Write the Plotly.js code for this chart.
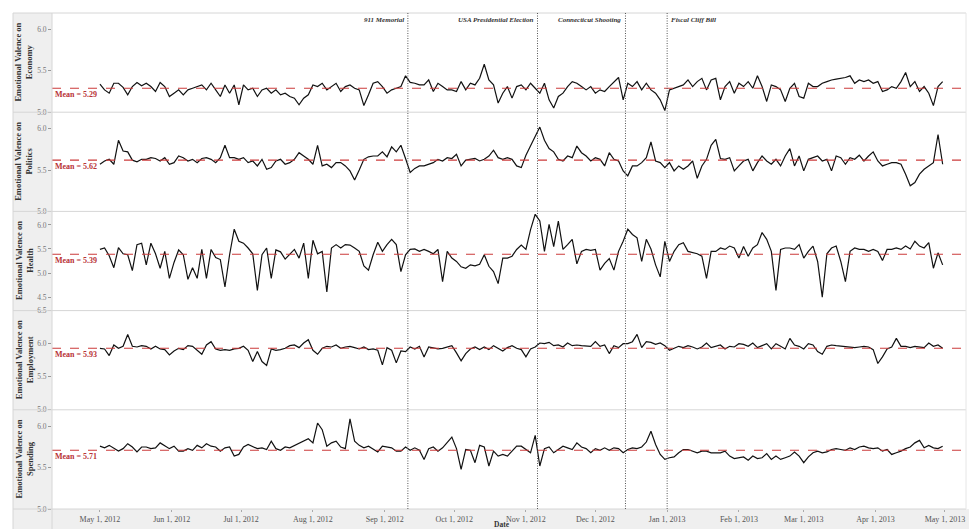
<!DOCTYPE html>
<html><head><meta charset="utf-8">
<script src="https://cdn.plot.ly/plotly-3.0.1.min.js"></script>
<style>html,body{margin:0;padding:0;background:#fff;}#chart{width:969px;height:529px;}</style>
</head><body><div id="chart"></div>
<script>
// ---- data (sampled every 2 days from May 1, 2012) ----
const startDate = '2012-05-01';
const stepDays = 2;

const economy = [
5.34,5.27,5.23,5.35,5.35,5.30,5.21,5.31,5.36,5.32,
5.35,5.31,5.25,5.36,5.31,5.19,5.23,5.27,5.21,5.27,
5.29,5.31,5.33,5.27,5.35,5.27,5.19,5.33,5.23,5.33,
5.09,5.33,5.27,5.29,5.19,5.27,5.29,5.23,5.27,5.21,
5.23,5.19,5.17,5.09,5.17,5.21,5.33,5.31,5.35,5.27,
5.31,5.35,5.25,5.31,5.33,5.29,5.27,5.08,5.21,5.35,
5.37,5.31,5.23,5.27,5.29,5.31,5.44,5.36,5.35,5.33,
5.33,5.39,5.25,5.35,5.31,5.27,5.27,5.25,5.37,5.27,
5.35,5.33,5.41,5.58,5.39,5.33,5.11,5.23,5.31,5.17,
5.31,5.33,5.27,5.35,5.29,5.23,5.35,5.15,5.05,5.19,
5.23,5.31,5.37,5.35,5.31,5.27,5.31,5.23,5.27,5.25,
5.31,5.37,5.42,5.15,5.35,5.31,5.37,5.27,5.35,5.27,
5.23,5.15,5.02,5.27,5.29,5.31,5.33,5.39,5.31,5.37,
5.41,5.27,5.39,5.41,5.15,5.31,5.37,5.23,5.35,5.31,
5.37,5.29,5.44,5.31,5.13,5.33,5.31,5.27,5.13,5.29,
5.35,5.19,5.17,5.35,5.31,5.31,5.35,5.37,5.39,5.40,
5.41,5.42,5.44,5.35,5.39,5.37,5.39,5.35,5.37,5.25,
5.27,5.31,5.29,5.37,5.48,5.31,5.37,5.25,5.31,5.23,
5.08,5.31,5.37];

const politics = [
5.57,5.61,5.63,5.57,5.86,5.73,5.72,5.62,5.60,5.63,
5.63,5.65,5.64,5.61,5.65,5.57,5.59,5.67,5.65,5.61,
5.63,5.59,5.64,5.65,5.63,5.59,5.65,5.80,5.65,5.65,
5.63,5.65,5.59,5.61,5.55,5.63,5.51,5.53,5.61,5.63,
5.57,5.59,5.63,5.71,5.67,5.63,5.57,5.80,5.55,5.57,
5.53,5.59,5.59,5.55,5.49,5.38,5.50,5.63,5.66,5.67,
5.67,5.72,5.66,5.78,5.72,5.80,5.64,5.47,5.52,5.55,
5.55,5.57,5.59,5.63,5.61,5.65,5.64,5.69,5.55,5.62,
5.63,5.64,5.61,5.63,5.67,5.74,5.65,5.63,5.65,5.63,
5.55,5.53,5.68,5.80,5.92,6.02,5.86,5.76,5.72,5.63,
5.61,5.67,5.65,5.79,5.71,5.67,5.61,5.65,5.63,5.55,
5.71,5.63,5.61,5.49,5.43,5.55,5.55,5.59,5.65,5.84,
5.61,5.59,5.53,5.59,5.49,5.55,5.51,5.55,5.61,5.40,
5.55,5.63,5.80,5.87,5.64,5.63,5.65,5.49,5.55,5.61,
5.63,5.49,5.59,5.67,5.61,5.57,5.63,5.55,5.67,5.76,
5.55,5.67,5.49,5.63,5.65,5.67,5.61,5.63,5.49,5.67,
5.65,5.57,5.65,5.63,5.68,5.61,5.67,5.72,5.61,5.55,
5.57,5.59,5.59,5.57,5.45,5.31,5.35,5.45,5.51,5.55,
5.59,5.93,5.57];

const health = [
5.49,5.52,5.36,5.11,5.53,5.40,5.38,5.05,5.59,5.62,
5.17,5.62,5.40,5.10,5.45,4.89,5.22,5.48,5.38,4.87,
5.11,4.89,5.49,4.89,5.49,5.32,5.28,4.71,5.38,5.91,
5.66,5.62,5.52,5.40,4.64,5.38,5.52,4.89,5.48,5.44,
5.29,5.38,5.49,5.31,5.62,4.89,5.68,5.40,5.45,4.61,
5.52,5.59,5.52,5.59,5.58,5.52,5.45,5.15,5.06,5.38,
5.64,5.45,5.59,5.70,5.59,5.03,5.38,5.49,5.50,5.45,
5.49,5.45,5.40,5.49,4.82,5.45,5.31,5.24,5.13,5.10,
5.17,5.15,5.18,5.38,5.14,5.03,4.78,5.31,5.31,5.35,
5.49,5.58,5.49,5.90,6.22,6.08,5.45,6.01,5.55,6.08,
5.49,5.59,5.70,5.19,5.45,5.49,5.47,5.49,5.06,5.20,
5.30,5.06,5.45,5.66,5.91,5.80,5.73,5.24,5.70,5.50,
5.17,4.92,5.66,5.24,5.45,5.59,5.63,5.45,5.42,5.40,
5.35,4.89,5.45,5.45,5.52,5.49,5.56,5.52,5.31,5.55,
5.35,5.52,5.59,5.84,5.70,5.45,4.64,5.49,5.52,5.52,
5.49,5.59,5.31,5.45,5.56,5.24,4.50,5.40,5.52,5.56,
5.24,4.82,5.45,5.52,5.49,5.49,5.45,5.49,5.45,5.26,
5.49,5.49,5.52,5.49,5.56,5.50,5.66,5.56,5.52,5.63,
5.10,5.42,5.17];

const employment = [
5.93,5.92,5.82,5.98,5.93,5.96,6.14,5.96,5.95,5.97,
5.96,5.92,5.96,5.92,5.91,5.83,5.89,5.93,5.91,5.97,
5.96,5.90,5.84,5.98,6.03,5.92,5.90,5.91,5.90,5.92,
5.93,5.96,5.90,5.73,5.88,5.73,5.67,5.92,5.90,5.91,
5.93,5.97,5.98,5.94,6.01,6.06,5.90,5.84,5.93,5.96,
5.95,5.98,5.93,5.95,5.96,5.94,5.92,5.95,5.91,5.92,
5.90,5.68,5.94,5.90,5.71,5.89,5.88,5.95,5.92,5.96,
5.80,5.95,5.93,5.92,5.93,5.95,5.97,5.86,5.74,5.85,
5.92,5.95,5.91,5.95,5.91,5.97,5.93,5.89,5.94,5.97,
5.93,5.91,5.80,5.92,5.95,6.01,6.00,6.02,5.97,5.98,
5.95,6.01,5.97,5.98,5.97,5.96,5.96,6.03,5.96,5.98,
5.85,5.97,5.94,6.00,6.00,6.03,6.14,5.94,6.03,6.02,
5.99,6.01,5.97,5.90,5.93,5.96,5.94,5.97,5.95,5.92,
5.95,6.01,5.94,5.96,5.98,5.92,5.96,5.95,6.00,5.99,
5.96,6.01,5.94,5.97,6.00,5.92,6.00,5.96,5.92,6.08,
5.98,5.96,5.92,6.00,5.98,5.88,5.84,5.96,5.98,5.97,
5.96,5.95,5.95,5.94,5.95,5.96,5.95,5.91,5.70,5.80,
5.92,5.95,6.08,5.96,5.96,5.94,5.96,5.95,5.94,6.01,
5.96,5.98,5.93];

const spending = [
5.76,5.74,5.77,5.74,5.70,5.73,5.79,5.75,5.69,5.75,
5.75,5.73,5.74,5.80,5.76,5.73,5.76,5.70,5.70,5.73,
5.71,5.77,5.74,5.79,5.76,5.75,5.70,5.74,5.75,5.64,
5.66,5.75,5.78,5.75,5.73,5.74,5.72,5.82,5.73,5.71,
5.75,5.74,5.77,5.80,5.83,5.85,5.80,6.04,5.96,5.76,
5.80,5.82,5.75,5.73,6.09,5.82,5.77,5.74,5.76,5.72,
5.69,5.76,5.75,5.74,5.70,5.70,5.75,5.71,5.74,5.71,
5.60,5.73,5.75,5.70,5.74,5.81,5.87,5.73,5.48,5.72,
5.71,5.56,5.77,5.75,5.52,5.70,5.64,5.66,5.64,5.70,
5.76,5.76,5.72,5.68,5.89,5.52,5.73,5.75,5.68,5.72,
5.76,5.74,5.72,5.80,5.75,5.73,5.68,5.73,5.71,5.74,
5.71,5.74,5.73,5.68,5.72,5.74,5.73,5.75,5.81,5.94,
5.78,5.66,5.60,5.62,5.63,5.68,5.72,5.72,5.70,5.68,
5.70,5.70,5.68,5.68,5.68,5.70,5.64,5.61,5.62,5.63,
5.59,5.64,5.61,5.62,5.67,5.60,5.64,5.60,5.62,5.64,
5.69,5.64,5.56,5.63,5.68,5.70,5.68,5.69,5.72,5.73,
5.72,5.71,5.74,5.72,5.75,5.76,5.74,5.73,5.74,5.70,
5.72,5.66,5.68,5.70,5.73,5.75,5.80,5.83,5.74,5.77,
5.74,5.73,5.76];

const panelNames = ['Economy', 'Politics', 'Health', 'Employment', 'Spending'];
const meanValues = [5.29, 5.62, 5.39, 5.93, 5.71];
const eventDates = ['2012-09-11', '2012-11-06', '2012-12-14', '2013-01-01'];
const eventLabels = ['911 Memorial', 'USA Presidential Election', 'Connecticut Shooting', 'Fiscal Cliff Bill'];
const yTicks = [[5.0, 5.5, 6.0], [5.0, 5.5, 6.0], [4.5, 5.0, 5.5, 6.0], [5.0, 5.5, 6.0, 6.5], [5.0, 5.5, 6.0]];
const xAxisTitle = 'Date';

// ---- build ----
const seriesList = [economy, politics, health, employment, spending];
function buildDates(n) {
  const out = [];
  const t0 = Date.parse(startDate + 'T00:00:00Z');
  for (let i = 0; i < n; i++) out.push(new Date(t0 + i * stepDays * 86400000).toISOString().slice(0, 10));
  return out;
}

const yRanges = [[5.0, 6.2], [5.0, 6.2], [4.22, 6.28], [5.0, 6.5], [5.0, 6.2]];
const serif = 'Liberation Serif, Times New Roman, serif';
const W = 969, H = 529, mL = 52, mR = 3, mT = 13, mB = 20;
const pw = W - mL - mR, ph = H - mT - mB;
const px = v => (v - mL) / pw;           // pixel -> paper x
const py = v => (H - mB - v) / ph;       // pixel -> paper y

const traces = seriesList.map((s, k) => ({
  type: 'scatter', mode: 'lines',
  x: buildDates(s.length), y: s,
  xaxis: 'x', yaxis: k === 0 ? 'y' : 'y' + (k + 1),
  line: {color: '#111', width: 1.2},
  hoverinfo: 'x+y', showlegend: false
}));

const layout = {
  width: W, height: H,
  margin: {l: mL, r: mR, t: mT, b: mB},
  paper_bgcolor: '#fff', plot_bgcolor: '#fff',
  font: {family: serif, size: 8, color: '#555'},
  showlegend: false,
  xaxis: {
    type: 'date', range: ['2012-04-10 07:00', '2013-05-10 02:00'],
    tick0: '2012-05-01', dtick: 'M1', tickformat: '%b %-d, %Y',
    ticks: 'outside', ticklen: 2, tickcolor: '#aaa',
    tickfont: {family: serif, size: 8, color: '#555'},
    showgrid: false, zeroline: false, showline: false, anchor: 'y5'
  },
  shapes: [], annotations: []
};

const gray = '#efefef', border = '#d6d6d6';
// gray frame areas
layout.shapes.push({type: 'rect', xref: 'paper', yref: 'paper', x0: px(13), x1: 0, y0: py(H), y1: 1, fillcolor: gray, line: {width: 0}, layer: 'below'});
layout.shapes.push({type: 'rect', xref: 'paper', yref: 'paper', x0: 0, x1: px(W), y0: py(H), y1: 0, fillcolor: gray, line: {width: 0}, layer: 'below'});

for (let k = 0; k < 5; k++) {
  const name = k === 0 ? 'yaxis' : 'yaxis' + (k + 1);
  const yref = k === 0 ? 'y' : 'y' + (k + 1);
  const d0 = (4 - k) * 0.2, d1 = d0 + 0.2;
  layout[name] = {
    domain: [d0, d1], range: yRanges[k], anchor: 'x',
    tickvals: yTicks[k], ticktext: yTicks[k].map(v => v.toFixed(1)),
    ticks: 'outside', ticklen: 3, tickcolor: '#999',
    tickfont: {family: serif, size: 7.5, color: '#777'},
    showgrid: false, zeroline: false, showline: false, fixedrange: true
  };
  // mean line
  layout.shapes.push({type: 'line', xref: 'paper', yref: yref, x0: 0, x1: 1, y0: meanValues[k], y1: meanValues[k],
    line: {color: '#cc3b3b', width: 1.1, dash: 'dash'}});
  layout.annotations.push({xref: 'paper', yref: yref, x: 0, y: meanValues[k], xanchor: 'left', yanchor: 'top',
    xshift: 1, yshift: 0, showarrow: false,
    text: '<b>Mean = ' + meanValues[k].toFixed(2) + '</b>', font: {family: serif, size: 8, color: '#b83236'}});
  // axis title in gray column
  layout.annotations.push({xref: 'paper', yref: 'paper', x: px(24), y: (d0 + d1) / 2, xanchor: 'center', yanchor: 'middle',
    textangle: -90, showarrow: false,
    text: '<b>Emotional Valence on<br>' + panelNames[k] + '</b>', font: {family: serif, size: 8.5, color: '#333'}});
  // panel separators
  layout.shapes.push({type: 'line', xref: 'paper', yref: 'paper', x0: px(13), x1: 1, y0: d0, y1: d0, line: {color: border, width: 1}});
}
// frame borders
layout.shapes.push({type: 'line', xref: 'paper', yref: 'paper', x0: px(13), x1: 1, y0: 1, y1: 1, line: {color: border, width: 1}});
layout.shapes.push({type: 'line', xref: 'paper', yref: 'paper', x0: px(13), x1: px(13), y0: py(H), y1: 1, line: {color: border, width: 1}});
layout.shapes.push({type: 'line', xref: 'paper', yref: 'paper', x0: 0, x1: 0, y0: py(H), y1: 1, line: {color: border, width: 1}});
layout.shapes.push({type: 'line', xref: 'paper', yref: 'paper', x0: 1, x1: 1, y0: 0, y1: 1, line: {color: '#e6e6e6', width: 1}});

// event lines and labels
eventDates.forEach((d, j) => {
  layout.shapes.push({type: 'line', xref: 'x', yref: 'paper', x0: d, x1: d, y0: 0, y1: 1,
    line: {color: '#555', width: 1, dash: '1px,1.5px'}});
  const right = j < 3;
  layout.annotations.push({xref: 'x', yref: 'paper', x: d, y: 1, xanchor: right ? 'right' : 'left', yanchor: 'top',
    xshift: right ? -2 : 2, yshift: -1, showarrow: false,
    text: '<b><i>' + eventLabels[j] + '</i></b>', font: {family: serif, size: 7, color: '#333'}});
});

// x-axis title
layout.annotations.push({xref: 'paper', yref: 'paper', x: px(502), y: py(524.5), xanchor: 'center', yanchor: 'middle',
  showarrow: false, text: '<b>' + xAxisTitle + '</b>', font: {family: serif, size: 7.5, color: '#333'}});

Plotly.newPlot('chart', traces, layout, {displayModeBar: false, staticPlot: true});
</script>
</body></html>
